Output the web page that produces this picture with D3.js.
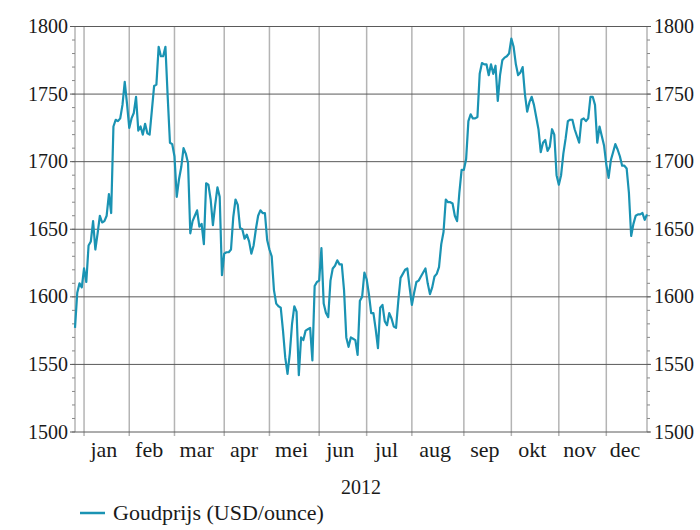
<!DOCTYPE html>
<html>
<head>
<meta charset="utf-8">
<script src="https://cdn.jsdelivr.net/npm/d3@7"></script>
<style>
  body { margin: 0; background: #fff; }
  svg text { font-family: "Liberation Serif", "DejaVu Serif", serif; fill: #1a1a1a; font-variant-numeric: oldstyle-nums; }
</style>
</head>
<body>
<div id="chart"></div>
<script>
// gold price, one value per trading day (27 dec 2011 - 31 dec 2012)
const prices = [
  1577, 1603, 1610, 1607, 1621, 1611, 1638, 1641, 1656, 1635,
  1647, 1660, 1655, 1656, 1660, 1676, 1662, 1726, 1731, 1730,
  1732, 1742, 1759, 1743, 1725, 1732, 1736, 1748, 1723, 1726,
  1720, 1728, 1721, 1720, 1738, 1756, 1757, 1785, 1778, 1778,
  1785, 1748, 1714, 1713, 1704, 1674, 1687, 1696, 1710, 1706,
  1699, 1647, 1656, 1660, 1664, 1652, 1654, 1639, 1684, 1683,
  1672, 1653, 1668, 1681, 1674, 1616, 1632, 1633, 1633, 1635,
  1659, 1672, 1668, 1651, 1650, 1643, 1646, 1641, 1632, 1638,
  1650, 1660, 1664, 1662, 1662, 1642, 1635, 1630, 1605, 1595,
  1593, 1592, 1575, 1555, 1543, 1558, 1580, 1593, 1589, 1542,
  1570, 1568, 1575, 1576, 1577, 1553, 1608, 1611, 1612, 1636,
  1595, 1588, 1585, 1612, 1621, 1623, 1627, 1624, 1624, 1605,
  1570, 1563, 1570, 1569, 1568, 1557, 1597, 1600, 1618, 1613,
  1602, 1588, 1588, 1576, 1562, 1592, 1594, 1582, 1579, 1588,
  1584, 1578, 1577, 1597, 1614, 1617, 1620, 1621, 1607, 1594,
  1603, 1611, 1612, 1615, 1618, 1621, 1610, 1602, 1607, 1615,
  1617, 1622, 1639, 1648, 1672, 1670, 1670, 1669, 1660, 1656,
  1677, 1694, 1694, 1702, 1730, 1735, 1732, 1732, 1733, 1765,
  1773, 1772, 1772, 1764, 1772, 1765, 1771, 1745, 1764, 1775,
  1777, 1778, 1780, 1791, 1785, 1772, 1764, 1766, 1770, 1750,
  1737, 1744, 1748, 1742, 1733, 1724, 1707, 1714, 1716, 1708,
  1711, 1724, 1720, 1690, 1683, 1690, 1706, 1717, 1730, 1731,
  1731, 1724, 1719, 1714, 1731, 1732, 1730, 1732, 1748, 1748,
  1742, 1714, 1726, 1719, 1712, 1698, 1688, 1701, 1707, 1713,
  1709, 1704, 1697, 1697, 1695, 1677, 1645, 1654, 1660, 1661,
  1661, 1662, 1657, 1661
];

// index of the first trading day of each month
const monthStarts = [4, 24, 44, 66, 86, 108, 129, 149, 172, 193, 214, 235];
const monthLabels = ["jan", "feb", "mar", "apr", "mei", "jun", "jul", "aug", "sep", "okt", "nov", "dec"];
const yTicks = [1500, 1550, 1600, 1650, 1700, 1750, 1800];
const yearLabel = "2012";
const seriesName = "Goudprijs (USD/ounce)";

const width = 700, height = 530;
const plotLeft = 75, plotRight = 647, plotTop = 26.5, plotBottom = 432;
const lineColor = "#1a93b3";

const svg = d3.select("#chart").append("svg")
  .attr("width", width)
  .attr("height", height);

const x = d3.scaleLinear().domain([0, prices.length - 1]).range([plotLeft, plotRight]);
const y = d3.scaleLinear().domain([1500, 1800]).range([plotBottom, plotTop]);

// vertical month lines
svg.append("g")
  .selectAll("line")
  .data(monthStarts)
  .join("line")
  .attr("x1", d => x(d)).attr("x2", d => x(d))
  .attr("y1", plotTop).attr("y2", plotBottom + 4)
  .attr("stroke", "#b4b4b4")
  .attr("stroke-width", 1.5);

// side axes with minor ticks
const minor = d3.range(1500, 1801, 10);
[[plotLeft, -1], [plotRight, 1]].forEach(([ax, dir]) => {
  svg.append("line")
    .attr("x1", ax).attr("x2", ax)
    .attr("y1", plotTop).attr("y2", plotBottom)
    .attr("stroke", "#b4b4b4").attr("stroke-width", 1.5);
  svg.append("g")
    .selectAll("line")
    .data(minor)
    .join("line")
    .attr("x1", ax).attr("x2", ax + dir * 3)
    .attr("y1", d => y(d)).attr("y2", d => y(d))
    .attr("stroke", "#888");
});

// horizontal gridlines
svg.append("g")
  .selectAll("line")
  .data(yTicks)
  .join("line")
  .attr("x1", plotLeft - 5).attr("x2", plotRight + 4)
  .attr("y1", d => y(d)).attr("y2", d => y(d))
  .attr("stroke", "#5a5a5a")
  .attr("stroke-width", 1);

// y labels both sides
svg.append("g")
  .selectAll("text")
  .data(yTicks)
  .join("text")
  .attr("x", plotLeft - 7)
  .attr("y", d => y(d))
  .attr("dy", "0.33em")
  .attr("text-anchor", "end")
  .attr("font-size", 20)
  .text(d => d);

svg.append("g")
  .selectAll("text")
  .data(yTicks)
  .join("text")
  .attr("x", plotRight + 7)
  .attr("y", d => y(d))
  .attr("dy", "0.33em")
  .attr("font-size", 20)
  .text(d => d);

// month labels in the middle of each month
const monthEnds = monthStarts.slice(1).concat([prices.length]);
svg.append("g")
  .selectAll("text")
  .data(monthLabels)
  .join("text")
  .attr("x", (d, i) => x((monthStarts[i] + monthEnds[i]) / 2 - 1.2))
  .attr("y", 457)
  .attr("text-anchor", "middle")
  .attr("font-size", 22)
  .text(d => d);

svg.append("text")
  .attr("x", (plotLeft + plotRight) / 2)
  .attr("y", 494)
  .attr("text-anchor", "middle")
  .attr("font-size", 20)
  .text(yearLabel);

// price line
const line = d3.line()
  .x((d, i) => x(i))
  .y(d => y(d));

svg.append("path")
  .datum(prices)
  .attr("fill", "none")
  .attr("stroke", lineColor)
  .attr("stroke-width", 2.2)
  .attr("stroke-linejoin", "round")
  .attr("d", line);

// legend
svg.append("line")
  .attr("x1", 80).attr("x2", 105)
  .attr("y1", 513).attr("y2", 513)
  .attr("stroke", lineColor)
  .attr("stroke-width", 2.5);

svg.append("text")
  .attr("x", 113)
  .attr("y", 520)
  .attr("font-size", 22)
  .text(seriesName);
</script>
</body>
</html>
